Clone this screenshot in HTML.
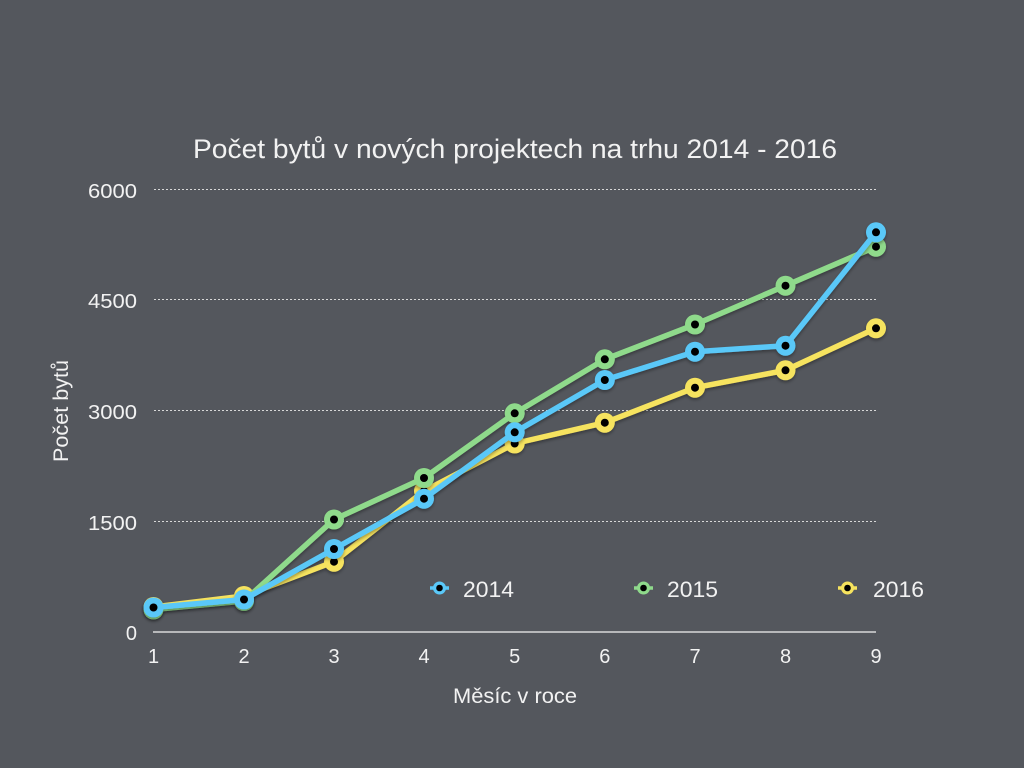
<!DOCTYPE html>
<html>
<head>
<meta charset="utf-8">
<style>
html,body{margin:0;padding:0;background:#54575d;}
svg{display:block;}
text{font-family:"Liberation Sans",sans-serif;fill:#f2f2f2;}
</style>
</head>
<body>
<svg width="1024" height="768" viewBox="0 0 1024 768" xmlns="http://www.w3.org/2000/svg">
<defs>
<filter id="sh" x="-10%" y="-10%" width="120%" height="130%">
<feDropShadow dx="0" dy="2" stdDeviation="1.5" flood-color="#000" flood-opacity="0.35"/>
</filter>
</defs>
<rect width="1024" height="768" fill="#54575d"/>

<text x="193" y="158" font-size="27" textLength="644" lengthAdjust="spacingAndGlyphs">Počet bytů v nových projektech na trhu 2014 - 2016</text>

<!-- gridlines -->
<g stroke="#d8d8d8" stroke-width="1" stroke-dasharray="2,2">
<line x1="154" y1="189.5" x2="876" y2="189.5"/>
<line x1="154" y1="299.5" x2="876" y2="299.5"/>
<line x1="154" y1="410.5" x2="876" y2="410.5"/>
<line x1="154" y1="521.5" x2="876" y2="521.5"/>
</g>
<line x1="153" y1="632" x2="876" y2="632" stroke="#f2f2f2" stroke-width="1.2"/>

<!-- y labels -->
<g font-size="20" text-anchor="end">
<text x="137" y="198" textLength="49" lengthAdjust="spacingAndGlyphs">6000</text>
<text x="137" y="308" textLength="49" lengthAdjust="spacingAndGlyphs">4500</text>
<text x="137" y="419" textLength="49" lengthAdjust="spacingAndGlyphs">3000</text>
<text x="137" y="530" textLength="49" lengthAdjust="spacingAndGlyphs">1500</text>
<text x="137" y="640">0</text>
</g>
<!-- x labels -->
<g font-size="20" text-anchor="middle">
<text x="153.5" y="663">1</text>
<text x="244" y="663">2</text>
<text x="334" y="663">3</text>
<text x="424" y="663">4</text>
<text x="514.7" y="663">5</text>
<text x="604.8" y="663">6</text>
<text x="695" y="663">7</text>
<text x="785.5" y="663">8</text>
<text x="876" y="663">9</text>
</g>

<text x="453" y="703" font-size="21" textLength="124" lengthAdjust="spacingAndGlyphs">Měsíc v roce</text>
<text transform="translate(68,462) rotate(-90)" x="0" y="0" font-size="21" textLength="102" lengthAdjust="spacingAndGlyphs">Počet bytů</text>

<!-- series -->
<g filter="url(#sh)" stroke-linejoin="round" stroke-linecap="round">
<!-- 2016 yellow -->
<polyline fill="none" stroke="#f6e35e" stroke-width="5.5" points="153.5,607 244,596 334,561.7 424,491 514.7,443.5 604.8,422.7 695,387.7 785.5,370.3 876,328.3"/>
<g fill="#f6e35e">
<circle cx="153.5" cy="607" r="10"/><circle cx="244" cy="596" r="10"/><circle cx="334" cy="561.7" r="10"/><circle cx="424" cy="491" r="10"/><circle cx="514.7" cy="443.5" r="10"/><circle cx="604.8" cy="422.7" r="10"/><circle cx="695" cy="387.7" r="10"/><circle cx="785.5" cy="370.3" r="10"/><circle cx="876" cy="328.3" r="10"/>
</g>
<g fill="#000">
<circle cx="153.5" cy="607" r="4"/><circle cx="244" cy="596" r="4"/><circle cx="334" cy="561.7" r="4"/><circle cx="424" cy="491" r="4"/><circle cx="514.7" cy="443.5" r="4"/><circle cx="604.8" cy="422.7" r="4"/><circle cx="695" cy="387.7" r="4"/><circle cx="785.5" cy="370.3" r="4"/><circle cx="876" cy="328.3" r="4"/>
</g>
</g>

<g filter="url(#sh)" stroke-linejoin="round" stroke-linecap="round">
<!-- 2015 green -->
<polyline fill="none" stroke="#8fda8b" stroke-width="5.5" points="153.5,609.5 244,601 334,519.5 424,478 514.7,413.3 604.8,359.3 695,324.5 785.5,285.7 876,246.7"/>
<g fill="#8fda8b">
<circle cx="153.5" cy="609.5" r="10"/><circle cx="244" cy="601" r="10"/><circle cx="334" cy="519.5" r="10"/><circle cx="424" cy="478" r="10"/><circle cx="514.7" cy="413.3" r="10"/><circle cx="604.8" cy="359.3" r="10"/><circle cx="695" cy="324.5" r="10"/><circle cx="785.5" cy="285.7" r="10"/><circle cx="876" cy="246.7" r="10"/>
</g>
<g fill="#000">
<circle cx="153.5" cy="609.5" r="4"/><circle cx="244" cy="601" r="4"/><circle cx="334" cy="519.5" r="4"/><circle cx="424" cy="478" r="4"/><circle cx="514.7" cy="413.3" r="4"/><circle cx="604.8" cy="359.3" r="4"/><circle cx="695" cy="324.5" r="4"/><circle cx="785.5" cy="285.7" r="4"/><circle cx="876" cy="246.7" r="4"/>
</g>
</g>

<g filter="url(#sh)" stroke-linejoin="round" stroke-linecap="round">
<!-- 2014 blue -->
<polyline fill="none" stroke="#5ac8f8" stroke-width="5.5" points="153.5,607.5 244,599.5 334,549 424,498.7 514.7,432.3 604.8,380 695,351.7 785.5,345.7 876,232.3"/>
<g fill="#5ac8f8">
<circle cx="153.5" cy="607.5" r="10"/><circle cx="244" cy="599.5" r="10"/><circle cx="334" cy="549" r="10"/><circle cx="424" cy="498.7" r="10"/><circle cx="514.7" cy="432.3" r="10"/><circle cx="604.8" cy="380" r="10"/><circle cx="695" cy="351.7" r="10"/><circle cx="785.5" cy="345.7" r="10"/><circle cx="876" cy="232.3" r="10"/>
</g>
<g fill="#000">
<circle cx="153.5" cy="607.5" r="4"/><circle cx="244" cy="599.5" r="4"/><circle cx="334" cy="549" r="4"/><circle cx="424" cy="498.7" r="4"/><circle cx="514.7" cy="432.3" r="4"/><circle cx="604.8" cy="380" r="4"/><circle cx="695" cy="351.7" r="4"/><circle cx="785.5" cy="345.7" r="4"/><circle cx="876" cy="232.3" r="4"/>
</g>
</g>

<!-- legend -->
<g>
<line x1="430" y1="588" x2="449" y2="588" stroke="#5ac8f8" stroke-width="3.5"/>
<circle cx="439.5" cy="588" r="6.5" fill="#5ac8f8"/><circle cx="439.5" cy="588" r="3.3" fill="#000"/>
<text x="463" y="597" font-size="22" textLength="51" lengthAdjust="spacingAndGlyphs">2014</text>

<line x1="634" y1="588" x2="653" y2="588" stroke="#8fda8b" stroke-width="3.5"/>
<circle cx="643.5" cy="588" r="6.5" fill="#8fda8b"/><circle cx="643.5" cy="588" r="3.3" fill="#000"/>
<text x="667" y="597" font-size="22" textLength="51" lengthAdjust="spacingAndGlyphs">2015</text>

<line x1="838" y1="588" x2="857" y2="588" stroke="#f6e35e" stroke-width="3.5"/>
<circle cx="847.5" cy="588" r="6.5" fill="#f6e35e"/><circle cx="847.5" cy="588" r="3.3" fill="#000"/>
<text x="873" y="597" font-size="22" textLength="51" lengthAdjust="spacingAndGlyphs">2016</text>
</g>
</svg>
</body>
</html>
